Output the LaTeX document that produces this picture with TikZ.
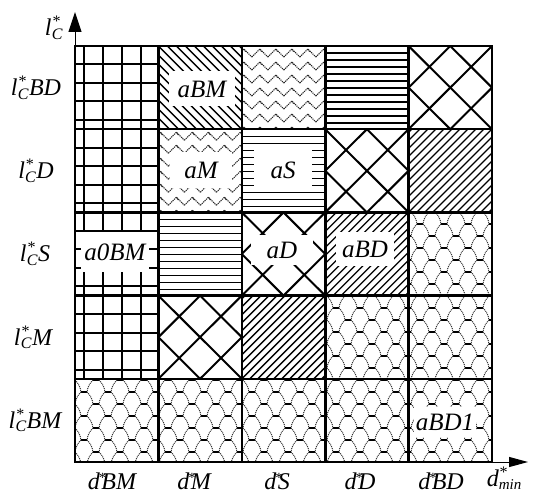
\documentclass[tikz,border=0pt]{standalone}
\usepackage{fontspec}
\setmainfont{Liberation Serif}
\usetikzlibrary{arrows.meta}

\newcommand\Lc{l\kern0.3pt\rlap{\raisebox{9pt}{\fontsize{16}{16}\selectfont *}}\raisebox{-3.5pt}{\fontsize{16}{16}\selectfont C}\kern0.5pt}
\newcommand\Ds{d\kern-1.5pt\raisebox{7pt}{\fontsize{14}{14}\selectfont *}\kern-4pt}
\newcommand\Dmin{d\rlap{\raisebox{9pt}{\fontsize{16}{16}\selectfont *}}\raisebox{-3pt}{\fontsize{15}{15}\selectfont min}}

\tikzset{
 bord/.style={line width=2.6pt},
 gridl/.style={line width=2pt},
 hl/.style={line width=1.3pt},
 dl/.style={line width=1.3pt},
 xl/.style={line width=2pt},
 dotl/.style={line width=1pt, black!80, dash pattern=on 1pt off 0.9pt},
 zzl/.style={line width=1pt, black!85, dash pattern=on 1.2pt off 0.8pt},
 hct/.style={line width=2pt},
 lab/.style={font=\fontsize{24}{24}\selectfont\itshape, inner sep=0pt},
 wbox/.style={lab, font=\fontsize{25}{25}\selectfont\itshape, fill=white, draw=none},
 axis/.style={line width=1pt},
}

\newcommand\patH[2]{\begin{scope}\clip (#1,#2) rectangle ++(83.4,83.2);
 \foreach \k in {1,...,11} \draw[hl] (#1,#2+7*\k) -- ++(83.4,0);
\end{scope}}
\newcommand\patNE[2]{\begin{scope}\clip (#1,#2) rectangle ++(83.4,83.2);
 \foreach \t in {0,8,...,176} \draw[dl] (#1-88+\t,#2+83.2) -- ++(84,-84);
\end{scope}}
\newcommand\patNW[2]{\begin{scope}\clip (#1,#2) rectangle ++(83.4,83.2);
 \foreach \t in {0,9,...,180} \draw[dl] (#1-90+\t,#2) -- ++(84,84);
\end{scope}}
\newcommand\patX[2]{\begin{scope}\clip (#1,#2) rectangle ++(83.4,83.2);
 \foreach \t in {0,...,4} {\draw[xl] (#1-83.4+41.7*\t,#2) -- ++(83.4,83.2);
   \draw[xl] (#1-83.4+41.7*\t,#2+83.2) -- ++(83.4,-83.2);}
\end{scope}}
\newcommand\patZZ[2]{\begin{scope}\clip (#1,#2) rectangle ++(83.4,83.2);
 \foreach \k in {0,...,6} \foreach \i in {0,...,5}
   {\draw[zzl] (#1-6+16*\i,#2+11+13*\k) -- ++(8,-8) -- ++(8,8);
    \draw[zzl] (#1+2+16*\i,#2+3+13*\k) -- ++(2,3);}
\end{scope}}
\newcommand\hexu[2]{%
 \draw[hct] (#1-3,#2-12) -- (#1+3,#2-12);
 \draw[dotl] (#1+3,#2-12) to[bend left=18] (#1+9,#2) (#1-3,#2-12) to[bend right=18] (#1-9,#2);}

\begin{document}
\begin{tikzpicture}[x=1pt,y=-1pt]
\useasboundingbox (0,0) rectangle (534,494);

% column 1 grid
\begin{scope}
\clip (75,46) rectangle (158.4,378.8);
\foreach \x in {84,103,122,141} \draw[gridl] (\x,46) -- (\x,378.8);
\foreach \r in {46,129.2,212.4,295.6} \foreach \k in {1,...,4}
  \draw[gridl] (75,\r+18.5*\k) -- (158.4,\r+18.5*\k);
\end{scope}
\node[wbox, minimum width=68pt, minimum height=40pt] (a0BM) at (115,252) {a0BM};

% row 1
\patNW{158.4}{46}
\patZZ{241.8}{46}
\patH{325.2}{46}
\patX{408.6}{46}
% row 2
\patZZ{158.4}{129.2}
\patH{241.8}{129.2}
\patX{325.2}{129.2}
\patNE{408.6}{129.2}
% row 3
\patH{158.4}{212.4}
\patX{241.8}{212.4}
\patNE{325.2}{212.4}
% row 4
\patX{158.4}{295.6}
\patNE{241.8}{295.6}
% honeycomb region
\begin{scope}
\clip (75,378.8) -- (325.2,378.8) -- (325.2,295.6) -- (408.6,295.6) -- (408.6,212.4)
  -- (492,212.4) -- (492,462) -- (75,462) -- cycle;
\foreach \i in {0,...,18} \foreach \j in {0,...,11} {
  \hexu{72+24*\i}{200+24*\j}
  \hexu{84+24*\i}{212+24*\j}
}
\end{scope}

% cell labels
\node[wbox, minimum width=66pt, minimum height=35pt] (aBM) at (202,89) {aBM};
\node[wbox, minimum width=62pt, minimum height=36pt] (aM) at (201,170) {aM};
\node[wbox, minimum width=58pt, minimum height=40pt] (aS) at (283,170) {aS};
\node[wbox, minimum width=62pt, minimum height=30pt] (aD) at (282,250) {aD};
\node[wbox, minimum width=58pt, minimum height=34pt] (aBD) at (365,249) {aBD};
\node[wbox, minimum width=62pt, minimum height=30pt] (aBDa) at (445,422) {aBD1};

% grid lines
\draw[bord] (75,46) rectangle (492,462);
\foreach \x in {158.4,241.8,325.2,408.6} \draw[bord] (\x,46) -- (\x,462);
\foreach \y in {129.2,212.4,295.6,378.8} \draw[bord] (75,\y) -- (492,\y);

% axes
\coordinate (ytop) at (75,46);
\coordinate (ytip) at (75,12);
\coordinate (xr) at (492,462);
\coordinate (xtip) at (528,462);
\draw[axis, -{Triangle[length=20pt,width=13pt]}] (ytop) -- (ytip);
\draw[axis, -{Triangle[length=19pt,width=10pt]}] (xr) -- (xtip);

% axis labels
\node[lab] (ylab) at (54,28) {\Lc};
\node[lab] (xlab) at (504,478) {\Dmin};
\node[lab] (r1) at (36,87.6) {\Lc BD};
\node[lab] (r2) at (36,170.8) {\Lc D};
\node[lab] (r3) at (35,254) {\Lc S};
\node[lab] (r4) at (33,337.2) {\Lc M};
\node[lab] (r5) at (35,420.4) {\Lc BM};
\node[lab] (c1) at (112,481) {\Ds BM};
\node[lab] (c2) at (194,481) {\Ds M};
\node[lab] (c3) at (277,481) {\Ds S};
\node[lab] (c4) at (360,481) {\Ds D};
\node[lab] (c5) at (441,481) {\Ds BD};
\end{tikzpicture}
\end{document}
